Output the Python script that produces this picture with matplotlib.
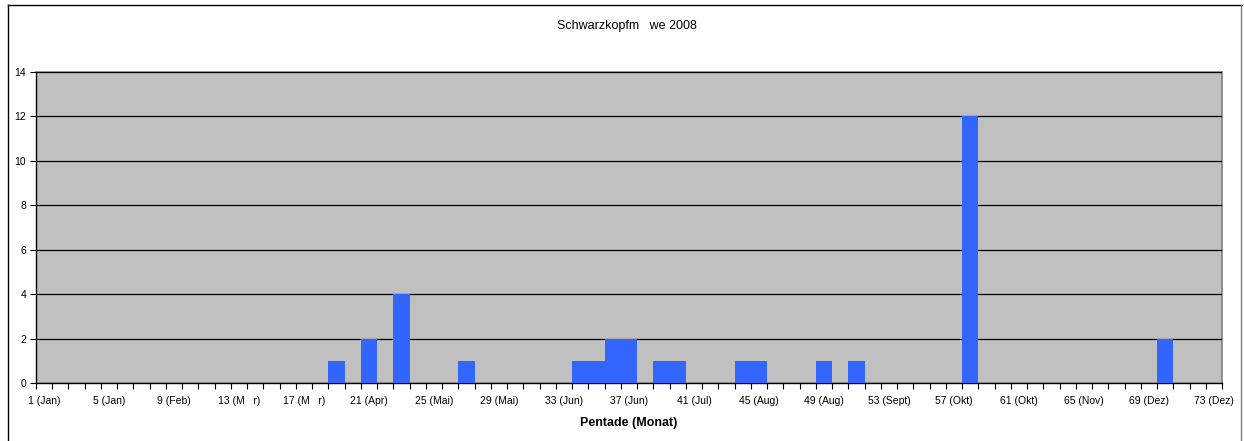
import matplotlib
matplotlib.use("Agg")
import matplotlib.pyplot as plt
from matplotlib.lines import Line2D
import numpy as np

plt.rcParams['font.family'] = ['Liberation Sans', 'DejaVu Sans']

# Daten: Anzahl pro Pentade (nur Pentaden mit Meldungen)
pentaden_mit_daten = [19, 21, 23, 27, 34, 35, 36, 37, 39, 40, 44, 45, 49, 51, 58, 70]
anzahl = [1, 2, 4, 1, 1, 1, 2, 2, 1, 1, 1, 1, 1, 1, 12, 2]

label_pentaden = [1, 5, 9, 13, 17, 21, 25, 29, 33, 37, 41, 45, 49, 53, 57, 61, 65, 69, 73]
label_monate = ["Jan", "Jan", "Feb", "M   r", "M   r", "Apr", "Mai", "Mai", "Jun", "Jun",
                "Jul", "Aug", "Aug", "Sept", "Okt", "Okt", "Nov", "Dez", "Dez"]

titel = "Schwarzkopfm   we 2008"
N_PENTADEN = 73

pentaden = np.arange(1, N_PENTADEN + 1)
werte = np.zeros(N_PENTADEN)
for p, a in zip(pentaden_mit_daten, anzahl):
    werte[p - 1] = a

W, H = 1244, 441
fig = plt.figure(figsize=(W / 100, H / 100), dpi=100)
ax = fig.add_axes([36 / W, 1 - 383 / H, (1222 - 36) / W, (383 - 72) / H])

ax.set_facecolor('#C0C0C0')
ax.bar(pentaden, werte, width=1.0, color='#3366FF', zorder=3)

ax.set_xlim(0.5, N_PENTADEN + 0.5)
ax.set_ylim(0, 14)
ax.set_yticks(range(0, 15, 2))
ax.yaxis.grid(True, color='black', linewidth=0.9, zorder=1)

ax.set_xticks(label_pentaden)
ax.set_xticklabels([f"{p} ({m})" for p, m in zip(label_pentaden, label_monate)])
ax.set_xticks(np.arange(0.5, N_PENTADEN + 1.0, 1.0), minor=True)
ax.tick_params(axis='x', which='major', length=0, labelsize=7.5, pad=9)
ax.tick_params(axis='x', which='minor', length=4, width=0.8, direction='out')
ax.tick_params(axis='y', length=4, width=0.8, labelsize=7.5, pad=3)

for s in ['left', 'bottom']:
    ax.spines[s].set_color('black')
    ax.spines[s].set_linewidth(1.0)
for s in ['top', 'right']:
    ax.spines[s].set_color('#808080')
    ax.spines[s].set_linewidth(1.2)
ax.set_axisbelow(False)

ax.set_xlabel("Pentade (Monat)", fontsize=9, fontweight='bold', labelpad=8)
fig.text(627 / W, 1 - 26 / H, titel, ha='center', va='center', fontsize=9)

# Rahmen des Diagrammbereichs
fig.add_artist(Line2D([8 / W, 8 / W], [0, 1 - 5 / H], color='black', linewidth=1.0))
fig.add_artist(Line2D([8 / W, 1242 / W], [1 - 5 / H, 1 - 5 / H], color='black', linewidth=1.0))
fig.add_artist(Line2D([1241 / W, 1241 / W], [0, 1 - 5 / H], color='#808080', linewidth=1.0))

fig.savefig("out.png", dpi=100)
